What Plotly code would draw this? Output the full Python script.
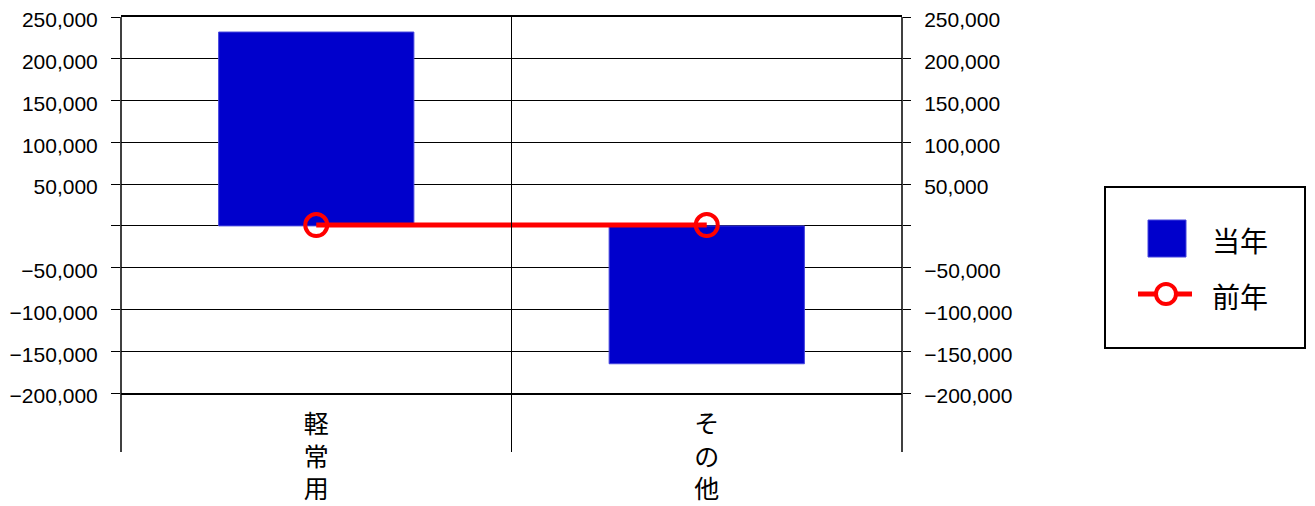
import plotly.graph_objects as go

categories = ["軽常用", "その他"]
category_labels = ["軽<br>常<br>用", "そ<br>の<br>他"]
current_year = [232000, -165000]
previous_year = [1000, 1000]
tick_vals = [250000, 200000, 150000, 100000, 50000, 0, -50000, -100000, -150000, -200000]
tick_text = ["250,000", "200,000", "150,000", "100,000", "50,000", "",
             "\u221250,000", "\u2212100,000", "\u2212150,000", "\u2212200,000"]
series_names = ["当年", "前年"]

# page body has an 8px default margin; work in page pixels and convert
OFF = 8
W, H = 1315 - OFF, 506 - OFF
L, T = 121 - OFF, 17 - OFF
R, B = W - (902 - OFF), H - (393 - OFF)
plot_w = W - L - R
plot_h = H - T - B


def px(x):
    return (x - OFF - L) / plot_w


def py(y):
    return (H - B - (y - OFF)) / plot_h


fig = go.Figure()
fig.add_trace(go.Bar(
    x=categories, y=current_year, name=series_names[0],
    marker=dict(color="#0000CC", line=dict(color="#4444DD", width=1)),
    width=0.5, showlegend=False,
))
fig.add_trace(go.Scatter(
    x=categories, y=previous_year, name=series_names[1], mode="lines+markers",
    line=dict(color="#FF0000", width=5),
    marker=dict(symbol="circle-open", size=22, color="#FF0000", line=dict(width=4, color="#FF0000")),
    showlegend=False,
))
# invisible trace to activate right axis
fig.add_trace(go.Scatter(x=categories, y=previous_year, yaxis="y2", mode="none",
                         showlegend=False, hoverinfo="skip"))

yr = [-200000, 250000]
tickfont = dict(family="Liberation Sans, Arial, sans-serif", size=21, color="#000000")
fig.update_layout(
    width=W, height=H,
    margin=dict(l=L, r=R, t=T, b=B, pad=0, autoexpand=False),
    paper_bgcolor="white", plot_bgcolor="white",
    xaxis=dict(
        type="category", range=[-0.5, 1.5], automargin=False,
        tickvals=categories, ticktext=category_labels,
        tickfont=dict(family="Noto Sans CJK JP", size=25, color="#000000"),
        showgrid=False, ticks="", showline=True, linecolor="#000000", linewidth=2, mirror=True,
        ticklabelstandoff=8, ticklabeloverflow="allow",
    ),
    yaxis=dict(
        range=yr, tickvals=tick_vals, ticktext=tick_text, tickfont=tickfont, automargin=False,
        showgrid=True, gridcolor="#000000", gridwidth=1, zeroline=False,
        ticks="outside", ticklen=9, tickcolor="#000000", tickwidth=1,
        showline=False, ticklabelstandoff=9, ticklabelshift=3, ticklabeloverflow="allow",
    ),
    yaxis2=dict(
        range=yr, tickvals=tick_vals, ticktext=tick_text, tickfont=tickfont, automargin=False,
        overlaying="y", side="right", showgrid=False, zeroline=False,
        ticks="outside", ticklen=8, tickcolor="#000000", tickwidth=1,
        showline=False, ticklabelstandoff=9, ticklabelshift=3, ticklabeloverflow="allow",
    ),
    showlegend=False,
)

# category divider lines extending below the plot
ext = py(452)
for xp, w in [(0, 1.5), (0.5, 1), (1, 1.5)]:
    fig.add_shape(type="line", xref="paper", yref="paper", x0=xp, x1=xp, y0=ext, y1=1,
                  line=dict(color="#000000", width=w), layer="above")

# legend box (drawn)
fig.add_shape(type="rect", xref="paper", yref="paper",
              x0=px(1105), x1=px(1305), y0=py(348), y1=py(187),
              line=dict(color="#000000", width=2), fillcolor="white", layer="above")
fig.add_shape(type="rect", xref="paper", yref="paper",
              x0=px(1148), x1=px(1186), y0=py(257), y1=py(220),
              line=dict(color="#4444DD", width=1), fillcolor="#0000CC", layer="above")
fig.add_shape(type="line", xref="paper", yref="paper",
              x0=px(1138), x1=px(1192), y0=py(294), y1=py(294),
              line=dict(color="#FF0000", width=5), layer="above")
fig.add_shape(type="circle", xref="paper", yref="paper",
              x0=px(1156), x1=px(1176), y0=py(304), y1=py(284),
              line=dict(color="#FF0000", width=4), fillcolor="white", layer="above")
legend_font = dict(family="Noto Sans CJK JP", size=28, color="#000000")
for name, yc in zip(series_names, [240, 296]):
    fig.add_annotation(text=name, xref="paper", yref="paper", x=px(1210), y=py(yc),
                       xanchor="left", yanchor="middle", showarrow=False, font=legend_font)

fig.write_html("out.html")
